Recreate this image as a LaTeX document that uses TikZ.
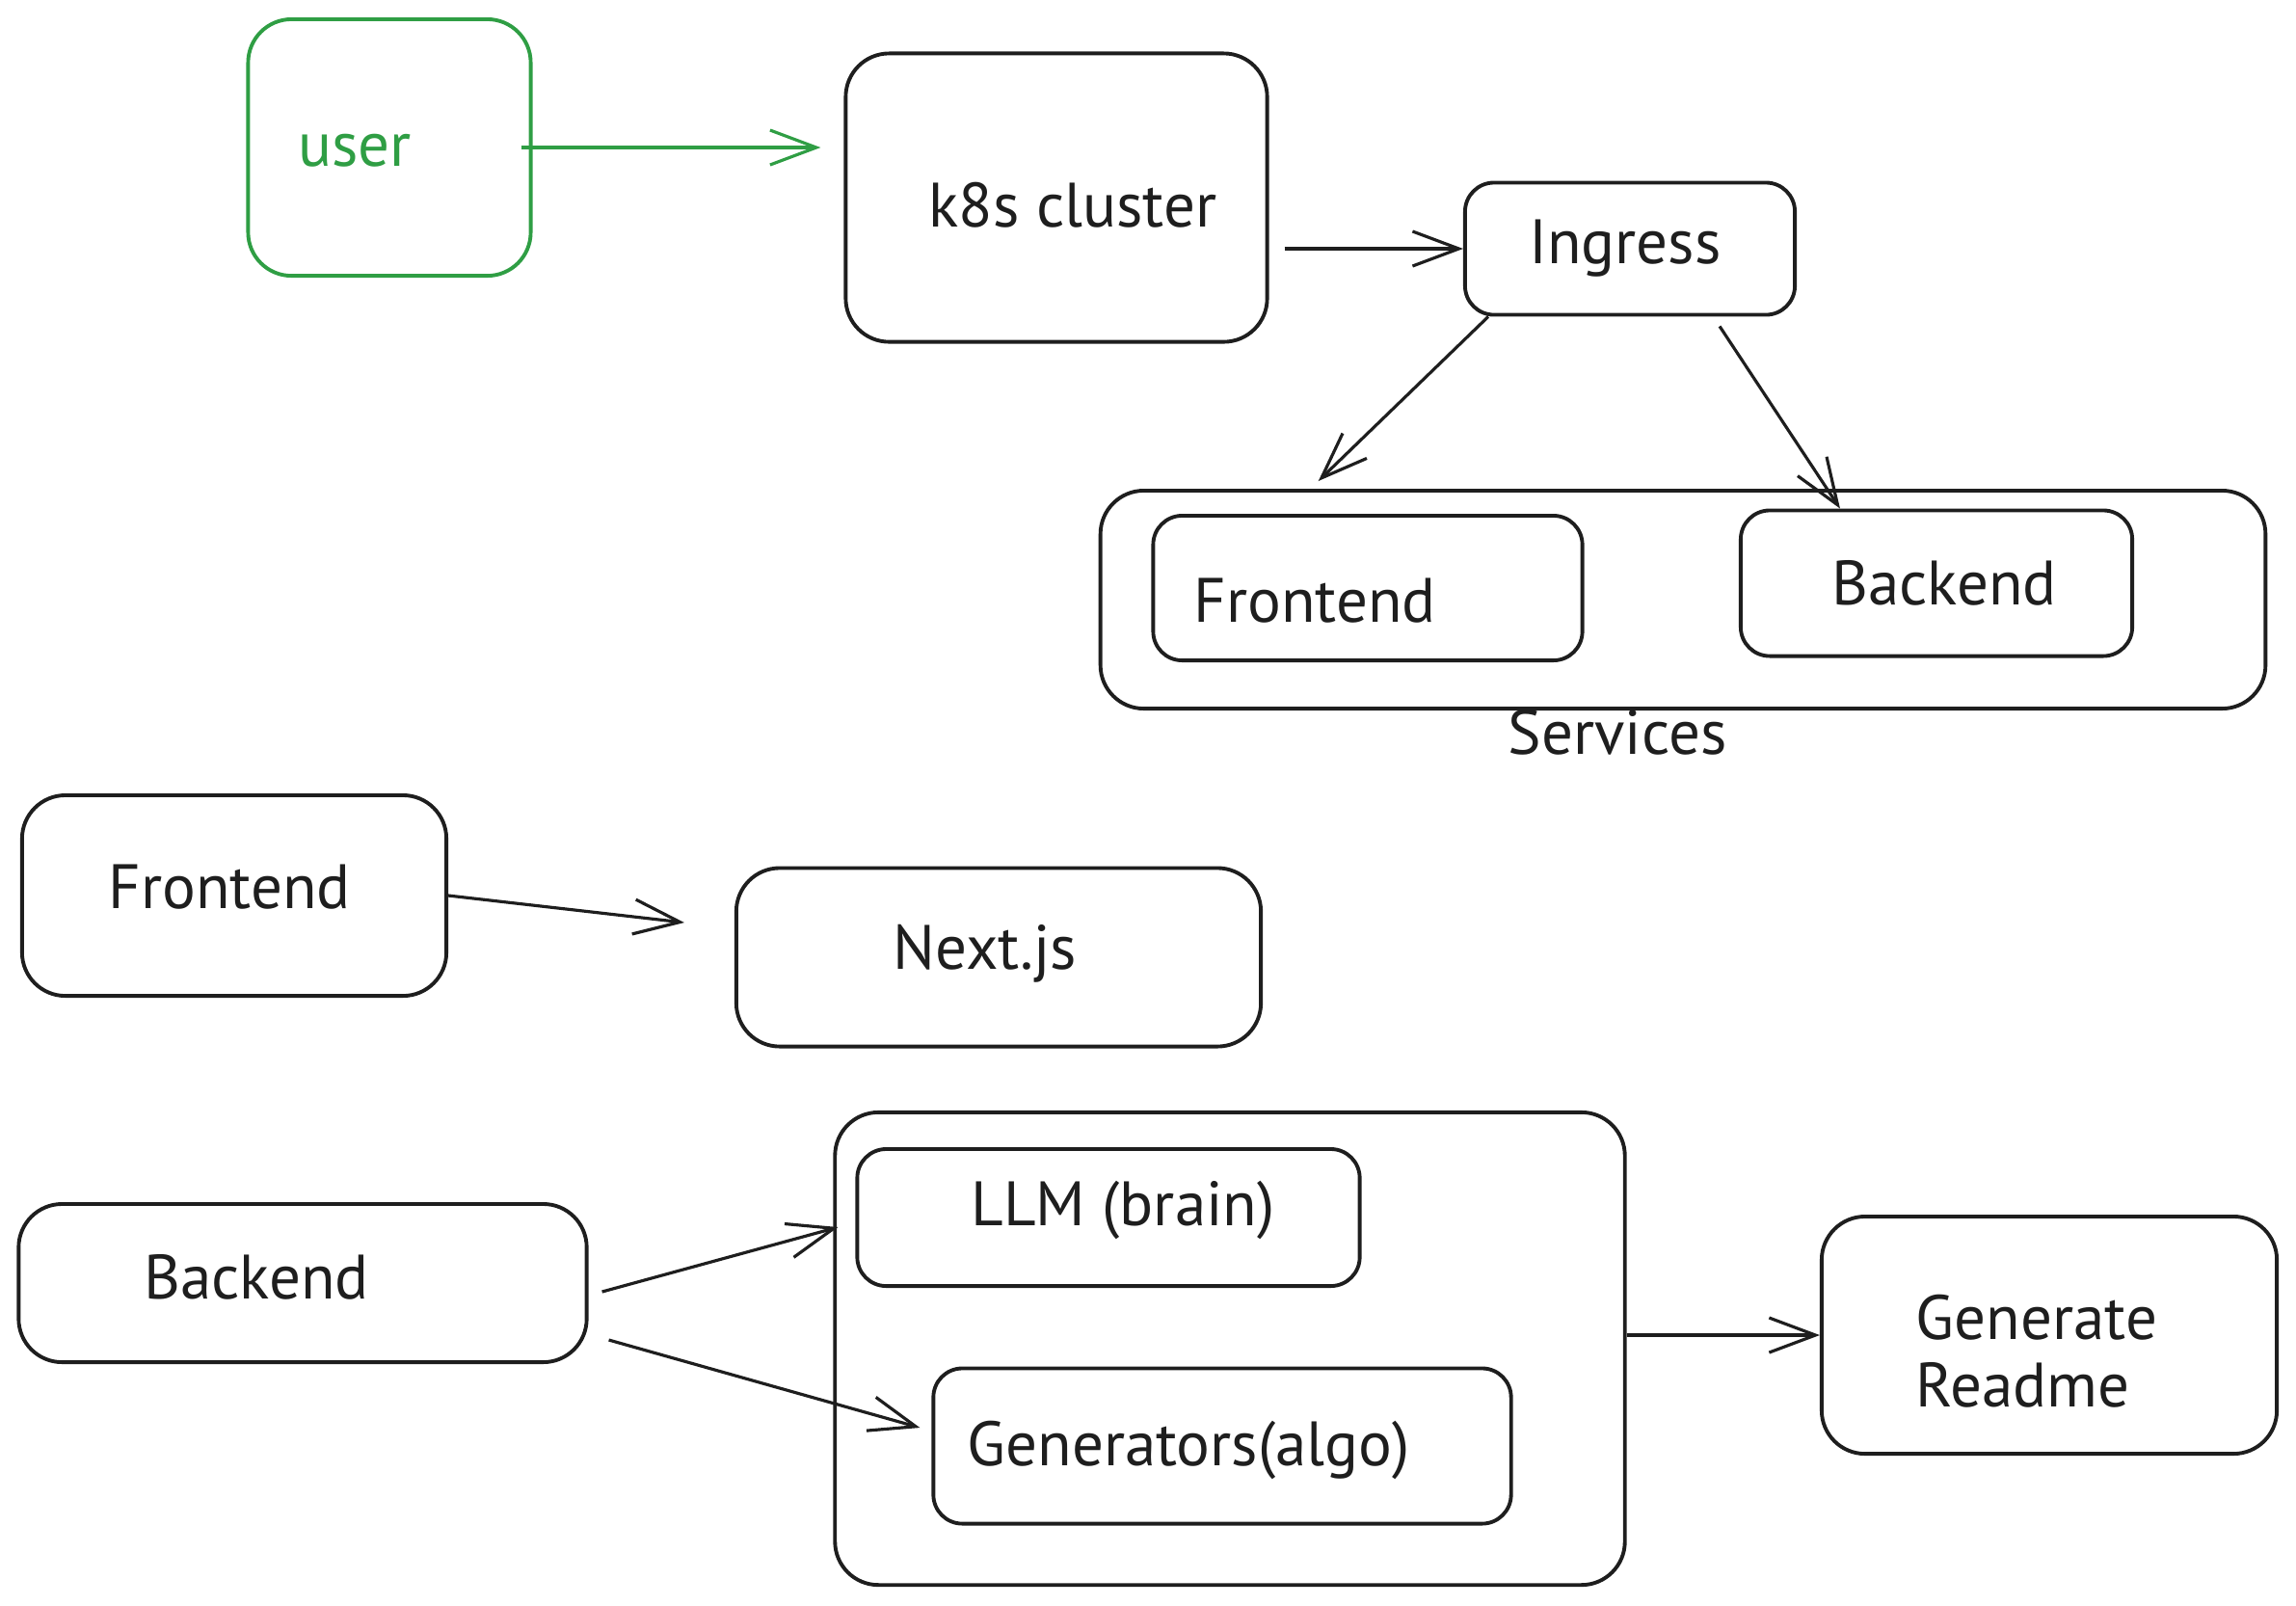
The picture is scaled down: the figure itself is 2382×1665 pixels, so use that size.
\documentclass[tikz,border=0pt]{standalone}
\usepackage{fontspec}
\setmainfont{PT Sans}
\usetikzlibrary{arrows.meta, calc}
\definecolor{ink}{HTML}{1E1E1E}
\definecolor{usergreen}{HTML}{2F9E44}

\begin{document}
\begin{tikzpicture}[x=0.01cm, y=-0.01cm,
  box/.style={draw=ink, line width=1.1pt, rounded corners=0.45cm, inner sep=0pt},
  smallbox/.style={box, rounded corners=0.3cm},
  word/.style={text=ink, font=\fontsize{18.5}{20}\selectfont, inner sep=0pt},
  flow/.style={draw=ink, line width=0.9pt, -{Straight Barb[length=4.8mm, width=3.6mm]}}]

  \useasboundingbox (0,0) rectangle (2382,1665);

  % User and cluster
  \node[box, draw=usergreen, minimum width=2.93cm, minimum height=2.66cm] (user) at (404,153) {};
  \node[word, text=usergreen] (usertxt) at (368,156) {user};
  \node[box, minimum width=4.37cm, minimum height=2.99cm] (k8s) at (1096,205) {};
  \node[word] (k8stxt) at (1113,213) {k8s cluster};
  \node[smallbox, minimum width=3.42cm, minimum height=1.37cm] (ingress) at (1691,258) {};
  \node[word] (ingresstxt) at (1686,258) {Ingress};

  \draw[flow, draw=usergreen, shorten <=-1.2mm, shorten >=2.4mm] (user.east) -- (user.east -| k8s.west);
  \draw[flow, shorten <=1.6mm] (k8s.east |- ingress.west) -- (ingress.west);

  % Services
  \node[box, minimum width=12.08cm, minimum height=2.26cm] (services) at (1746,622) {};
  \node[word] (servicestxt) at (1678,760) {Services};
  \node[smallbox, minimum width=4.45cm, minimum height=1.5cm] (sfront) at (1419,610) {};
  \node[word] (sfronttxt) at (1364,623) {Frontend};
  \node[smallbox, minimum width=4.06cm, minimum height=1.51cm] (sback) at (2009,605) {};
  \node[word] (sbacktxt) at (2017,605) {Backend};

  \draw[flow] ($(ingress.south west)+(26,0)$) -- ($(services.north west)+(228,-8)$);
  \draw[flow] ($(ingress.south east)+(-80,10)$) -- ($(sback.north west)+(105,0)$);

  % Frontend stack
  \node[box, minimum width=4.4cm, minimum height=2.08cm] (front) at (243,929) {};
  \node[word] (fronttxt) at (238,920) {Frontend};
  \node[box, minimum width=5.44cm, minimum height=1.85cm] (next) at (1036,993) {};
  \node[word] (nexttxt) at (1022,989) {Next.js};

  \draw[flow] (front.east) -- ($(next.west)+(-52,-36)$);

  % Backend stack
  \node[box, minimum width=5.89cm, minimum height=1.64cm] (back) at (314,1331) {};
  \node[word] (backtxt) at (266,1325) {Backend};
  \node[box, minimum width=8.19cm, minimum height=4.9cm] (core) at (1276,1399) {};
  \node[smallbox, minimum width=5.21cm, minimum height=1.42cm] (llm) at (1150,1263) {};
  \node[word] (llmtxt) at (1165,1255) {LLM (brain)};
  \node[smallbox, minimum width=5.99cm, minimum height=1.61cm] (gen) at (1268,1500) {};
  \node[word] (gentxt) at (1233,1504) {Generators(algo)};
  \node[box, minimum width=4.72cm, minimum height=2.46cm] (readme) at (2126,1385) {};
  \node[word, anchor=west, align=left] (readmetxt) at (1987,1402) {Generate\\Readme};

  \draw[flow] ($(back.east)+(14,9)$) -- ($(llm.west)+(-18,10)$);
  \draw[flow] ($(back.east)+(21,59)$) -- ($(gen.west)+(-12,-19)$);
  \draw[flow] (core.east |- readme.west) -- (readme.west);
\end{tikzpicture}
\end{document}
